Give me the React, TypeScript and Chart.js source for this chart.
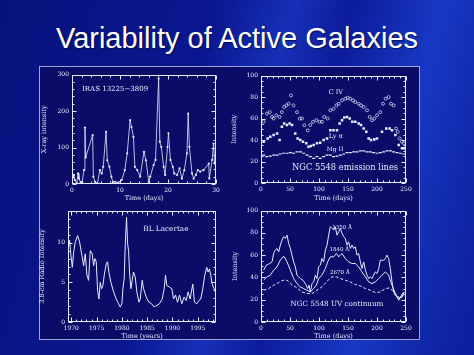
import React, { useEffect, useRef } from "react";
import { Chart, registerables } from "chart.js";
Chart.register(...registerables);

type Pt = [number, number];

const SLIDE_TITLE = "Variability of Active Galaxies";

// Panel 1: IRAS 13225-3809 X-ray light curve (day, intensity)
const irasPoints: Pt[] = [
  [0.2, 18], [0.4, 25], [0.6, 11], [1.0, 2], [1.25, 29], [1.45, 15], [1.8, 4], [2.1, 6],
  [2.5, 38], [2.7, 155], [2.85, 73], [4.3, 134], [4.45, 20], [4.8, 6], [5.3, 2], [5.8, 38],
  [6.2, 29], [6.5, 47], [7.1, 143], [7.35, 65], [7.8, 47], [8.2, 20], [8.5, 5], [9.0, 6],
  [9.65, 4], [10.35, 11], [11.0, 38], [11.5, 84], [12.1, 175], [12.4, 156], [12.8, 129],
  [13.1, 47], [13.6, 38], [14.2, 20], [15.0, 88], [15.4, 65], [16.0, 6], [16.3, 20],
  [17.0, 52], [17.4, 66], [18.05, 289], [18.3, 116], [18.6, 102], [19.1, 47], [19.4, 25],
  [19.9, 102], [20.1, 139], [20.5, 66], [21.0, 47], [21.3, 29], [21.9, 25], [22.4, 43],
  [22.9, 15], [23.4, 38], [23.95, 84], [24.2, 193], [24.45, 102], [25.0, 29], [25.35, 15],
  [25.8, 25], [26.2, 38], [26.7, 34], [27.4, 38], [28.5, 56], [28.6, 15], [29.2, 66],
  [29.5, 111], [29.7, 56],
];
const irasXTicks = [0, 10, 20, 30];
const irasYTicks = [0, 100, 200, 300];

// Panel 2: NGC 5548 emission lines (day, intensity)
const civPoints: Pt[] = [
  [4.6, 57], [10.3, 64.6], [15, 66], [19, 61.5], [21.8, 60], [26.4, 63], [32, 61.5], [36, 66],
  [40, 70.8], [43.7, 72.3], [47.7, 73.8], [51.7, 81.5], [56, 72.3], [62, 66], [66.7, 60],
  [70.7, 60], [74.7, 53.8], [80.5, 49], [85, 54], [89.6, 57], [95.4, 58.5], [101, 57],
  [105, 57], [109, 61.5], [115, 60], [119.5, 67.7], [125, 69], [130, 72.3], [134, 73.8],
  [139.7, 77], [145.4, 78.5], [149.4, 79.4], [154, 78.5], [158.6, 77], [162.6, 75.4],
  [168.4, 73.8], [172.4, 72.3], [177, 70.8], [182.8, 67.7], [187.4, 61.5], [191.4, 58.5],
  [195.4, 60], [200, 63], [205.7, 66], [210.3, 73.8], [215, 78.5], [220, 80], [224, 73.8],
  [228.7, 72.3], [232.8, 50.8], [235.6, 47.7], [239, 41.5], [243, 38.5], [246, 37],
];
const lyaPoints: Pt[] = [
  [4.6, 38.5], [11.5, 41.5], [16, 43], [21.8, 44.6], [27.6, 46], [32, 40], [36, 52.3],
  [40, 55.4], [44.8, 54], [49.4, 55.4], [53.4, 54], [59, 46], [63.2, 41.5], [67.8, 40],
  [72.4, 38.5], [78, 37], [82, 33.8], [86, 34.5], [90.8, 35.4], [96.5, 37], [102, 37.5],
  [108, 40], [113.8, 41.5], [119.5, 49.2], [125, 49.2], [131, 49.2], [135.6, 55.4],
  [139.7, 58.5], [143.7, 61], [148.3, 61.5], [152.9, 60], [157.5, 57], [162.6, 57],
  [168.4, 55.4], [172.4, 54], [177, 50.8], [181.6, 47.7], [185.6, 41.5], [189.7, 40],
  [195.4, 40.6], [200, 41.5], [208.6, 47.7], [216, 50.8], [221.8, 50.8], [225.9, 49.2],
  [231.6, 44.6], [237.4, 35.4], [243, 32.3], [247, 32.3],
];
const mgiiPoints: Pt[] = [
  [4.6, 26], [10, 24.6], [16, 25], [22, 26], [27.6, 26], [33, 27], [39, 27.7], [45, 27.7],
  [50.6, 28.3], [56, 27.7], [62, 29], [68, 29], [73.6, 27.7], [79.3, 26], [85, 24.6],
  [90.8, 23], [96.5, 24.6], [102, 23], [108, 24.6], [113.8, 26], [119.5, 26], [125, 24.6],
  [131, 25], [136.8, 26], [142.5, 27], [148.3, 28.3], [154, 28.3], [159.8, 29], [165.5, 29],
  [171.3, 30], [177, 30], [182.8, 29], [188.5, 29], [194.2, 28.3], [200, 27.7], [205.7, 28.3],
  [211.5, 29], [217.2, 30], [223, 30], [228.7, 29], [234.5, 28.3], [240.2, 27.7], [246, 27],
];
const daysXTicks = [0, 50, 100, 150, 200, 250];
const intensityYTicks = [0, 20, 40, 60, 80, 100];

// Panel 3: BL Lacertae 3.8-cm radio (year, intensity)
const bllacPoints: Pt[] = [
  [1969.47, 9.45], [1969.67, 10.3], [1969.93, 8.4], [1970.2, 6.9], [1970.46, 8.8],
  [1970.79, 10.1], [1971.25, 10.9], [1971.64, 10.1], [1972.1, 8.4], [1972.43, 7.1],
  [1972.76, 8.6], [1973.09, 5.9], [1973.42, 5.25], [1973.75, 9.0], [1974.14, 8.6],
  [1974.41, 7.1], [1974.67, 8.0], [1974.93, 7.6], [1975.2, 4.0], [1975.46, 2.9],
  [1975.72, 5.0], [1975.99, 4.2], [1976.25, 4.6], [1976.51, 5.9], [1976.91, 7.35],
  [1977.17, 7.6], [1977.43, 6.3], [1977.83, 5.0], [1978.36, 3.8], [1978.88, 2.9],
  [1979.34, 2.3], [1979.67, 1.9], [1980.0, 2.3], [1980.2, 4.2], [1980.46, 5.5],
  [1980.66, 9.7], [1980.92, 13.2], [1981.12, 9.9], [1981.32, 9.0], [1981.51, 6.3],
  [1981.78, 4.2], [1982.04, 5.25], [1982.3, 6.3], [1982.63, 5.7], [1982.96, 3.8],
  [1983.36, 2.5], [1983.62, 2.9], [1984.01, 5.25], [1984.28, 4.2], [1984.8, 3.15],
  [1985.33, 2.5], [1985.86, 2.3], [1986.38, 1.9], [1986.91, 2.1], [1987.43, 2.3],
  [1987.96, 2.9], [1988.36, 4.2], [1988.62, 5.9], [1988.88, 4.6], [1989.41, 4.4],
  [1989.87, 4.2], [1990.2, 2.9], [1990.59, 3.4], [1990.99, 2.5], [1991.38, 3.4],
  [1991.84, 2.3], [1992.3, 3.15], [1992.7, 2.7], [1993.09, 3.8], [1993.49, 2.9],
  [1994.01, 4.8], [1994.34, 2.5], [1994.8, 2.3], [1995.2, 2.7], [1995.59, 2.9],
  [1995.99, 4.2], [1996.38, 5.9], [1996.78, 6.9], [1997.04, 6.3], [1997.3, 6.7],
  [1997.57, 5.9], [1997.83, 4.8], [1998.22, 4.2], [1998.49, 3.8],
];
const yearXTicks = [1970, 1975, 1980, 1985, 1990, 1995];
const radioYTicks = [0, 5, 10];

// Panel 4: NGC 5548 UV continuum (day, intensity)
const uv1350Points: Pt[] = [
  [4.6, 46.5], [9.2, 51], [15, 52.5], [19, 54], [21.8, 61.5], [24.7, 64.5], [27.6, 66],
  [30.5, 63], [33.3, 69], [36.2, 73.6], [39, 76.6], [42, 75], [44.8, 78], [47.7, 70.6],
  [50.6, 66], [53.4, 60], [56.3, 54], [59.2, 49.5], [62, 42], [65, 40.5], [67.8, 39],
  [72.4, 37.5], [76.4, 34.5], [80.5, 30], [82.8, 33], [85, 27], [88, 34.5], [90.8, 36],
  [93.7, 42], [96.5, 39], [99.4, 49.5], [102.3, 51], [105, 57], [108, 54], [111, 64.5],
  [113.8, 69], [116.7, 78], [119.5, 85.6], [122.4, 84], [125.3, 82.6], [128, 85.6],
  [131, 78], [134, 81], [136.8, 84], [139.6, 79.6], [142.5, 76.6], [145.4, 75], [148.3, 69],
  [151, 72], [154, 66], [157, 69], [159.8, 66], [162.6, 67.5], [165.5, 60], [168.4, 61.5],
  [171.3, 54], [174, 48], [177, 54], [180, 46.5], [182.8, 42], [185.6, 39], [188.5, 40.5],
  [191.4, 39], [194.2, 42], [197, 45], [200, 43.5], [203, 48], [205.7, 55.5], [208.6, 55.5],
  [211.5, 55.5], [214.4, 57], [217, 60], [220, 57], [223, 48], [225.9, 36], [228.7, 27],
  [231.6, 24], [234.5, 22.5], [237.4, 19.5], [240.2, 22.5], [246, 27],
];
const uv1840Points: Pt[] = [
  [4.6, 37.5], [10.3, 40.5], [16, 42], [21.8, 46.5], [27.6, 49.5], [33.3, 55.5], [38, 58.5],
  [40.2, 58.5], [44.8, 54], [50.6, 46.5], [56.3, 39], [62, 34.5], [67.8, 31.5], [73.6, 30],
  [79.3, 28.5], [85, 27], [90.8, 30], [95.4, 33], [99.4, 39], [105, 42], [111, 48], [115, 54],
  [119.5, 58.5], [125.3, 58.5], [130, 61.5], [134, 58.5], [139.6, 61.5], [145.4, 57],
  [151, 54], [157, 52.5], [162.6, 52.5], [168.4, 49.5], [174, 45], [180, 40.5], [185.6, 36],
  [191.4, 34.5], [197, 36], [203, 39], [208.6, 42], [214.4, 45], [220, 42], [225.9, 33],
  [231.6, 25.5], [237.4, 21], [243, 22.5], [247, 27],
];
const uv2670Points: Pt[] = [
  [4.6, 28.5], [13, 30], [21.8, 33], [30.5, 35.4], [38, 37.5], [44.8, 37.5], [53.4, 33.6],
  [62, 30.6], [70.7, 27], [79.3, 25.5], [88, 25.5], [96.5, 28.5], [105, 31.5], [113.8, 36.6],
  [122.4, 40.5], [130, 40.5], [136.8, 39], [145.4, 37.5], [154, 36], [162.6, 33.6],
  [171.3, 32.4], [180, 30], [188.5, 28.5], [197, 26.4], [205.7, 27], [214.4, 30],
  [221.8, 30.6], [228.7, 27], [234.5, 24], [240.2, 21], [246, 24],
];

const FG = "#e8eaff";
const SERIF = "'DejaVu Serif', 'Liberation Serif', serif";

const toXY = (pts: Pt[]) => pts.map(([x, y]) => ({ x, y }));

type Note = { text: string; x: number; y: number; align?: CanvasTextAlign; size?: number };

const framePlugin = {
  id: "frame",
  afterDatasetsDraw(chart: any, _args: any, o: any) {
    const { ctx, chartArea: a } = chart;
    const xs = chart.scales.x;
    const ys = chart.scales.y;
    ctx.save();
    ctx.strokeStyle = FG;
    ctx.lineWidth = 1;
    const L = Math.round(a.left) + 0.5;
    const R = Math.round(a.right) - 0.5;
    const T = Math.round(a.top) + 0.5;
    const B = Math.round(a.bottom) - 0.5;
    ctx.strokeRect(L, T, R - L, B - T);
    ctx.beginPath();
    const isMajor = (list: number[], v: number) => list.some((m) => Math.abs(m - v) < 1e-6);
    const loop = (min: number, max: number, s: number, fn: (v: number) => void) => {
      for (let i = Math.ceil(min / s - 1e-9); i * s <= max + 1e-9; i++) fn(i * s);
    };
    loop(xs.min, xs.max, o.xMinor, (v) => {
      const len = isMajor(o.xTicks, v) ? 4 : 2;
      const px = Math.round(xs.getPixelForValue(v)) + 0.5;
      ctx.moveTo(px, B); ctx.lineTo(px, B - len);
      ctx.moveTo(px, T); ctx.lineTo(px, T + len);
    });
    loop(ys.min, ys.max, o.yMinor, (v) => {
      const len = isMajor(o.yTicks, v) ? 4 : 2;
      const py = Math.round(ys.getPixelForValue(v)) + 0.5;
      ctx.moveTo(L, py); ctx.lineTo(L + len, py);
      ctx.moveTo(R, py); ctx.lineTo(R - len, py);
    });
    ctx.stroke();
    ctx.fillStyle = FG;
    ctx.textBaseline = "middle";
    for (const n of o.notes as Note[]) {
      ctx.font = `${n.size ?? 7.5}px ${SERIF}`;
      ctx.textAlign = n.align ?? "center";
      ctx.fillText(n.text, xs.getPixelForValue(n.x), ys.getPixelForValue(n.y));
    }
    ctx.restore();
  },
};

type PanelSpec = {
  left: number; top: number; width: number; height: number;
  yWidth: number; xHeight: number; padTop: number; padRight: number;
  xMin: number; xMax: number; yMin: number; yMax: number;
  xTicks: number[]; yTicks: number[]; xMinor: number; yMinor: number;
  xTitle: string; yTitle: string; yTitlePad: number;
  datasets: any[]; notes: Note[];
};

function Panel({ spec }: { spec: PanelSpec }) {
  const ref = useRef<HTMLCanvasElement>(null);
  useEffect(() => {
    const tickFont = { family: SERIF, size: 6 };
    const titleFont = { family: SERIF, size: 6.5 };
    const chart = new Chart(ref.current!, {
      type: "scatter",
      data: { datasets: spec.datasets },
      options: {
        animation: false,
        responsive: false,
        devicePixelRatio: 1,
        layout: { padding: { top: spec.padTop, right: spec.padRight, left: 0, bottom: 0 } },
        plugins: {
          legend: { display: false },
          tooltip: { enabled: false },
          frame: { xTicks: spec.xTicks, yTicks: spec.yTicks, xMinor: spec.xMinor, yMinor: spec.yMinor, notes: spec.notes },
        } as any,
        scales: {
          x: {
            type: "linear",
            min: spec.xMin,
            max: spec.xMax,
            grid: { display: false, drawTicks: false },
            border: { display: false },
            ticks: { color: FG, font: tickFont, padding: 3, maxRotation: 0, autoSkip: false, callback: (v: any) => String(v) },
            afterBuildTicks: (s: any) => { s.ticks = spec.xTicks.map((v) => ({ value: v })); },
            afterFit: (s: any) => { s.height = spec.xHeight; },
            title: { display: true, text: spec.xTitle, color: FG, font: titleFont, padding: 0 },
          },
          y: {
            type: "linear",
            min: spec.yMin,
            max: spec.yMax,
            grid: { display: false, drawTicks: false },
            border: { display: false },
            ticks: { color: FG, font: tickFont, padding: 3, autoSkip: false, callback: (v: any) => String(v) },
            afterBuildTicks: (s: any) => { s.ticks = spec.yTicks.map((v) => ({ value: v })); },
            afterFit: (s: any) => { s.width = spec.yWidth; },
            title: { display: true, text: spec.yTitle, color: FG, font: titleFont, padding: { top: spec.yTitlePad, bottom: 0 } },
          },
        },
      } as any,
      plugins: [framePlugin as any],
    });
    return () => chart.destroy();
  }, []);
  return (
    <canvas
      ref={ref}
      width={spec.width}
      height={spec.height}
      style={{ position: "absolute", left: spec.left, top: spec.top, width: spec.width, height: spec.height }}
    />
  );
}

const lineSet = (pts: Pt[], extra: any = {}) => ({
  data: toXY(pts),
  showLine: true,
  borderColor: FG,
  borderWidth: 1,
  pointRadius: 0,
  ...extra,
});

export default function App() {
  const panels: PanelSpec[] = [
    {
      left: 36, top: 68, width: 192, height: 134, yWidth: 36, xHeight: 18, padTop: 6, padRight: 12,
      xMin: 0, xMax: 30, yMin: 0, yMax: 300, xTicks: irasXTicks, yTicks: irasYTicks, xMinor: 2, yMinor: 20,
      xTitle: "Time (days)", yTitle: "X-ray intensity", yTitlePad: 4,
      datasets: [
        lineSet(irasPoints, { borderWidth: 0.8, pointRadius: 1.1, pointBackgroundColor: FG, pointBorderWidth: 0 }),
      ],
      notes: [{ text: "IRAS 13225\u22123809", x: 2.1, y: 259, align: "left", size: 7 }],
    },
    {
      left: 228, top: 69, width: 190, height: 133, yWidth: 33, xHeight: 19, padTop: 6, padRight: 12,
      xMin: 0, xMax: 250, yMin: 0, yMax: 100, xTicks: daysXTicks, yTicks: intensityYTicks, xMinor: 10, yMinor: 5,
      xTitle: "Time (days)", yTitle: "Intensity", yTitlePad: 2,
      datasets: [
        { data: toXY(civPoints), pointStyle: "circle", pointRadius: 1.5, pointBackgroundColor: "rgba(0,0,0,0)", pointBorderColor: FG, pointBorderWidth: 0.7 },
        { data: toXY(lyaPoints), pointStyle: "rect", pointRadius: 1.8, pointBackgroundColor: FG, pointBorderColor: FG, pointBorderWidth: 0 },
        { data: toXY(mgiiPoints), pointStyle: "line", pointRadius: 1.5, pointBorderColor: FG, pointBorderWidth: 1.2 },
      ],
      notes: [
        { text: "C IV", x: 129, y: 84, size: 6.5 },
        { text: "Ly \u03b1", x: 129, y: 43.5, size: 6.5 },
        { text: "Mg II", x: 127.6, y: 31.5, size: 6 },
        { text: "NGC 5548 emission lines", x: 145, y: 14, size: 8.3 },
      ],
    },
    {
      left: 34, top: 204, width: 194, height: 136, yWidth: 34, xHeight: 18, padTop: 7, padRight: 12,
      xMin: 1969.35, xMax: 1998.6, yMin: 0, yMax: 14, xTicks: yearXTicks, yTicks: radioYTicks, xMinor: 1, yMinor: 1,
      xTitle: "Time (years)", yTitle: "3.8-cm Radio Intensity", yTitlePad: 4,
      datasets: [lineSet(bllacPoints)],
      notes: [{ text: "BL Lacertae", x: 1988.7, y: 11.75, size: 7.3 }],
    },
    {
      left: 228, top: 204, width: 190, height: 136, yWidth: 33, xHeight: 18, padTop: 6, padRight: 12,
      xMin: 0, xMax: 250, yMin: 0, yMax: 100, xTicks: daysXTicks, yTicks: intensityYTicks, xMinor: 10, yMinor: 5,
      xTitle: "Time (days)", yTitle: "Intensity", yTitlePad: 3,
      datasets: [
        lineSet(uv1350Points),
        lineSet(uv1840Points),
        lineSet(uv2670Points, { borderDash: [3, 2] }),
      ],
      notes: [
        { text: "1350 \u00c5", x: 140, y: 85, size: 5.5 },
        { text: "1840 \u00c5", x: 135, y: 65, size: 5.5 },
        { text: "2670 \u00c5", x: 136, y: 44, size: 5.5 },
        { text: "NGC 5548 UV continuum", x: 131, y: 16, size: 7.2 },
      ],
    },
  ];

  return (
    <div
      style={{
        position: "absolute", left: 0, top: 0, width: 474, height: 355, overflow: "hidden",
        background:
          "linear-gradient(105deg, #08127c 0%, #0a1790 38%, #1630b8 52%, #0c1c9a 62%, #1838c4 78%, #1028aa 90%, #0c1e9c 100%)",
      }}
    >
      <div
        style={{
          position: "absolute", left: 0, top: 18, width: 474, height: 40, lineHeight: "40px",
          textAlign: "center", color: "#ffffff", fontFamily: "'Liberation Sans', Arial, sans-serif",
          fontSize: 29, whiteSpace: "nowrap", textShadow: "1px 1px 1px rgba(0,0,30,0.6)",
        }}
      >
        {SLIDE_TITLE}
      </div>
      <div
        style={{
          position: "absolute", left: 39, top: 66, width: 379, height: 272,
          border: "1px solid #9ca4d8", background: "#0a0c68",
        }}
      />
      {panels.map((p, i) => (
        <Panel key={i} spec={p} />
      ))}
    </div>
  );
}
